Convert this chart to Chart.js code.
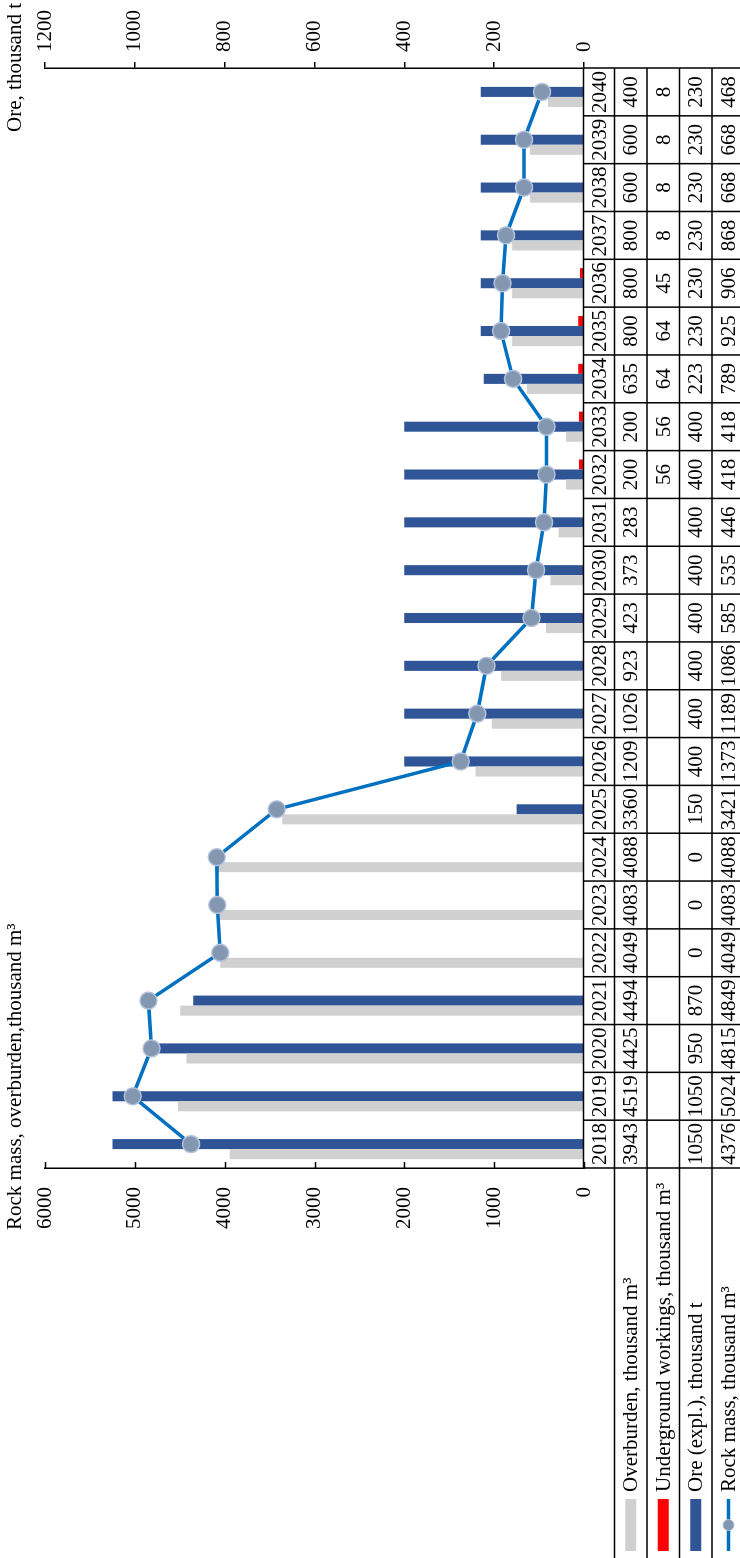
<!DOCTYPE html>
<html>
<head>
<meta charset="utf-8">
<script src="https://cdn.jsdelivr.net/npm/chart.js@4.4.0/dist/chart.umd.min.js"></script>
<style>
  html, body { margin: 0; padding: 0; background: #fff; overflow: hidden; }
  /* chart is drawn landscape, then turned a quarter left */
  #wrap {
    position: absolute; left: 0; top: 0;
    width: 1558px; height: 740px;
    transform-origin: 0 0;
    transform: translateY(1558px) rotate(-90deg);
  }
</style>
</head>
<body>
<div id="wrap"><canvas id="myChart" width="1558" height="740"></canvas></div>
<script>
var years = ["2018", "2019", "2020", "2021", "2022", "2023", "2024", "2025", "2026", "2027", "2028", "2029",
  "2030", "2031", "2032", "2033", "2034", "2035", "2036", "2037", "2038", "2039", "2040"];
var overburden = [3943, 4519, 4425, 4494, 4049, 4083, 4088, 3360, 1209, 1026, 923, 423,
  373, 283, 200, 200, 635, 800, 800, 800, 600, 600, 400];
var underground = [null, null, null, null, null, null, null, null, null, null, null, null,
  null, null, 56, 56, 64, 64, 45, 8, 8, 8, 8];
var ore = [1050, 1050, 950, 870, 0, 0, 0, 150, 400, 400, 400, 400,
  400, 400, 400, 400, 223, 230, 230, 230, 230, 230, 230];
var rockMass = [4376, 5024, 4815, 4849, 4049, 4083, 4088, 3421, 1373, 1189, 1086, 585,
  535, 446, 418, 418, 789, 925, 906, 868, 668, 668, 468];

var seriesNames = ["Overburden, thousand m\u00b3", "Underground workings, thousand m\u00b3",
  "Ore (expl.), thousand t", "Rock mass, thousand m\u00b3"];
var leftTitle = "Rock mass, overburden,thousand m\u00b3";
var rightTitle = "Ore, thousand t";

var FONT = "Liberation Serif, Times New Roman, serif";
var FS = 21;
var GREY = "#D0D0D0", BLUE = "#2F5597", RED = "#FF0000", LINE = "#0070C0";

// table row edges (canvas y), first row = years
var rowEdges = [583.5, 614.5, 647, 679.5, 712, 745];

var tablePlugin = {
  id: "dataTable",
  afterDraw: function (chart) {
    var ctx = chart.ctx;
    var x = chart.scales.x;
    var yl = chart.scales.y;
    var n = years.length;
    var w = (x.right - x.left) / n;
    var H = chart.height;

    ctx.save();
    ctx.strokeStyle = "#000";
    ctx.lineWidth = 1.5;

    // inside ticks of left axis
    yl.ticks.forEach(function (t) {
      var py = Math.round(yl.getPixelForValue(t.value)) + 0.5;
      ctx.beginPath();
      ctx.moveTo(yl.right, py);
      ctx.lineTo(yl.right + 6, py);
      ctx.stroke();
    });

    // grid of the table
    ctx.beginPath();
    ctx.moveTo(x.left, rowEdges[0]);
    ctx.lineTo(x.right, rowEdges[0]);
    for (var r = 1; r < rowEdges.length; r++) {
      ctx.moveTo(0, rowEdges[r]);
      ctx.lineTo(x.right, rowEdges[r]);
    }
    for (var i = 0; i <= n; i++) {
      var cx = x.left + i * w;
      ctx.moveTo(cx, rowEdges[0]);
      ctx.lineTo(cx, H);
    }
    ctx.stroke();

    // cell texts
    var rows = [years, overburden, underground, ore, rockMass];
    ctx.fillStyle = "#000";
    ctx.font = FS + "px " + FONT;
    ctx.textAlign = "center";
    ctx.textBaseline = "middle";
    rows.forEach(function (vals, ri) {
      var cy = (rowEdges[ri] + rowEdges[ri + 1]) / 2 + 1;
      vals.forEach(function (v, ci) {
        if (v === null) return;
        ctx.fillText(String(v), x.getPixelForValue(ci), cy);
      });
    });

    // legend keys in the table
    ctx.textAlign = "left";
    var keyColors = [GREY, RED, BLUE];
    for (var k = 0; k < 4; k++) {
      var my = (rowEdges[k + 1] + rowEdges[k + 2]) / 2;
      if (k < 3) {
        ctx.fillStyle = keyColors[k];
        ctx.fillRect(7, my - 5.5, 52, 11);
      } else {
        ctx.strokeStyle = LINE;
        ctx.lineWidth = 3.5;
        ctx.beginPath();
        ctx.moveTo(7, my);
        ctx.lineTo(59, my);
        ctx.stroke();
        ctx.beginPath();
        ctx.arc(33, my, 5.5, 0, Math.PI * 2);
        ctx.fillStyle = "#8497B0";
        ctx.fill();
        ctx.lineWidth = 1;
        ctx.strokeStyle = "#B4C3DB";
        ctx.stroke();
      }
      ctx.fillStyle = "#000";
      ctx.fillText(seriesNames[k], 66, my + 1);
    }

    // axis titles
    ctx.textBaseline = "middle";
    ctx.textAlign = "left";
    ctx.fillText(leftTitle, 328, 15);
    ctx.textAlign = "right";
    ctx.fillText(rightTitle, 1555, 15);
    ctx.restore();
  }
};

function plain(value) { return String(value); }

var ctx = document.getElementById("myChart").getContext("2d");
var myChart = new Chart(ctx, {
  data: {
    labels: years,
    datasets: [
      { type: "bar", label: seriesNames[0], data: overburden, backgroundColor: GREY, yAxisID: "y", order: 1 },
      { type: "bar", label: seriesNames[2], data: ore, backgroundColor: BLUE, yAxisID: "y1", order: 1 },
      { type: "bar", label: seriesNames[1], data: underground, backgroundColor: RED, yAxisID: "y", order: 1 },
      {
        type: "line", label: seriesNames[3], data: rockMass, yAxisID: "y", order: 0,
        borderColor: LINE, borderWidth: 3.5, tension: 0,
        pointRadius: 8.5, pointBackgroundColor: "#8497B0",
        pointBorderColor: "#B4C3DB", pointBorderWidth: 1.5
      }
    ]
  },
  options: {
    responsive: false,
    animation: false,
    devicePixelRatio: 1,
    layout: { padding: { top: 45, left: 0, right: 0, bottom: 0 } },
    datasets: { bar: { categoryPercentage: 0.63, barPercentage: 1.0 } },
    plugins: {
      legend: { display: false },
      tooltip: { enabled: false }
    },
    scales: {
      x: {
        offset: true,
        ticks: { display: false },
        grid: { display: false },
        border: { display: false },
        afterFit: function (s) { s.height = 156; }
      },
      y: {
        position: "left",
        min: 0, max: 6000,
        ticks: { stepSize: 1000, padding: 19, color: "#000", font: { family: FONT, size: FS }, callback: plain },
        grid: { drawOnChartArea: false, drawTicks: false },
        border: { display: true, color: "#000", width: 1.5 },
        afterFit: function (s) { s.width = 390; s.paddingTop = 0; s.paddingBottom = 0; }
      },
      y1: {
        position: "right",
        min: 0, max: 1200,
        ticks: { stepSize: 200, padding: 10, color: "#000", font: { family: FONT, size: FS }, callback: plain },
        grid: { drawOnChartArea: false, drawTicks: true, tickLength: 6, color: "#000", lineWidth: 1.5 },
        border: { display: true, color: "#000", width: 1.5 },
        afterFit: function (s) { s.width = 68; s.paddingTop = 0; s.paddingBottom = 0; }
      }
    }
  },
  plugins: [tablePlugin]
});
</script>
</body>
</html>
